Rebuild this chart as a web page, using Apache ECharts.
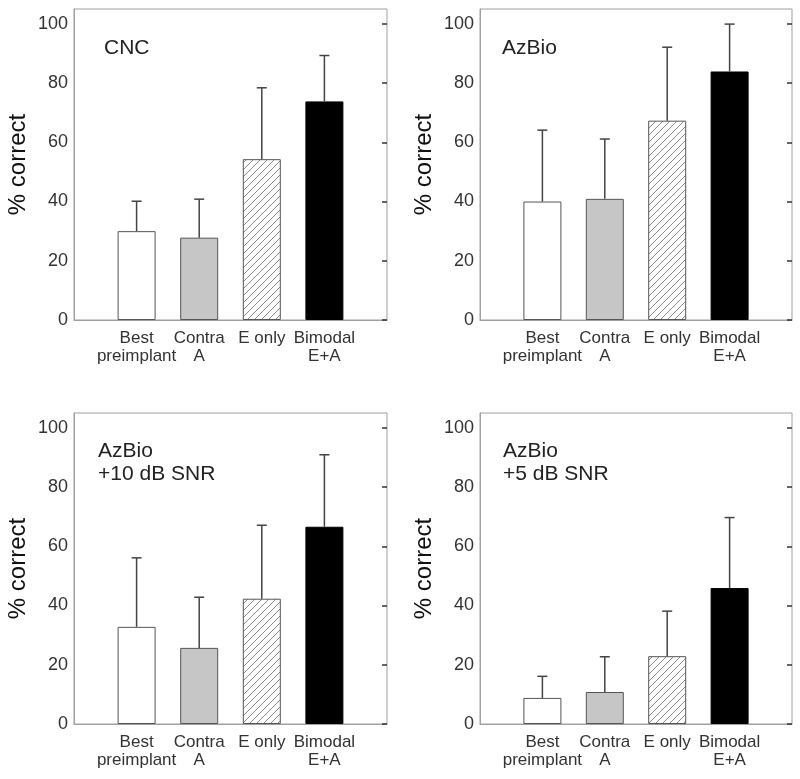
<!DOCTYPE html>
<html>
<head>
<meta charset="utf-8">
<script src="https://cdn.jsdelivr.net/npm/echarts@6/dist/echarts.min.js"></script>
<style>
    html, body { margin: 0; padding: 0; background: #fff; }
    #main { width: 800px; height: 779px; }
</style>
</head>
<body>
<div id="main"></div>
<script>
    // x categories (blank slots at both ends leave the gaps seen in the figure)
    var categories = ['', 'Best\npreimplant', 'Contra\nA', 'E only', 'Bimodal\nE+A', ''];
    var yTicks = [0, 20, 40, 60, 80, 100];

    // panel titles
    var panelTitles = ['CNC', 'AzBio', 'AzBio\n+10 dB SNR', 'AzBio\n+5 dB SNR'];

    // mean % correct per condition
    var cncMean = [30, 27.8, 54.3, 73.8];
    var azbioMean = [40, 40.9, 67.3, 83.9];
    var snr10Mean = [32.8, 25.7, 42.3, 66.6];
    var snr5Mean = [8.8, 10.8, 22.9, 45.9];

    // top of the error bar (mean + SD)
    var cncTop = [40.1, 40.8, 78.4, 89.3];
    var azbioTop = [64.1, 61.1, 92.1, 99.9];
    var snr10Top = [56.1, 42.8, 67.1, 90.9];
    var snr5Top = [16.1, 22.7, 38.1, 69.7];

    var means = [cncMean, azbioMean, snr10Mean, snr5Mean];
    var tops = [cncTop, azbioTop, snr10Top, snr5Top];

    // hatch pattern for "E only"
    function makeHatch() {
        var c = document.createElement('canvas');
        c.width = 7;
        c.height = 7;
        var ctx = c.getContext('2d');
        ctx.fillStyle = '#fff';
        ctx.fillRect(0, 0, 7, 7);
        ctx.strokeStyle = '#8a8a8a';
        ctx.lineWidth = 1;
        ctx.beginPath();
        ctx.moveTo(-1, 8); ctx.lineTo(8, -1);
        ctx.moveTo(-8, 8); ctx.lineTo(1, -1);
        ctx.moveTo(6, 8); ctx.lineTo(15, -1);
        ctx.stroke();
        return c;
    }
    var hatch = makeHatch();

    var barStyles = [
        {color: '#ffffff', borderColor: '#555', borderWidth: 1},
        {color: '#c6c6c6', borderColor: '#555', borderWidth: 1},
        {color: {image: hatch, repeat: 'repeat'}, borderColor: '#555', borderWidth: 1},
        {color: '#000000', borderColor: '#000', borderWidth: 1}
    ];

    var grids = [
        {left: 74, top: 9, width: 313, height: 311},
        {left: 480, top: 9, width: 312, height: 311},
        {left: 74, top: 413, width: 313, height: 311},
        {left: 480, top: 413, width: 312, height: 311}
    ];
    var titlePos = [[104, 37], [502, 37], [98, 440], [503, 440]];

    var font = 'Liberation Sans, Arial, sans-serif';
    var option = {
        animation: false,
        backgroundColor: '#fff',
        title: [],
        grid: [],
        xAxis: [],
        yAxis: [],
        series: []
    };

    for (var p = 0; p < 4; p++) {
        option.grid.push({
            left: grids[p].left, top: grids[p].top,
            width: grids[p].width, height: grids[p].height,
            show: true, borderColor: '#a0a0a0', borderWidth: 1
        });
        option.title.push({
            text: panelTitles[p], padding: 0,
            left: titlePos[p][0], top: titlePos[p][1],
            textStyle: {fontFamily: font, fontSize: 21, fontWeight: 'normal', color: '#222', lineHeight: 23}
        });
        option.xAxis.push({
            type: 'category', gridIndex: p, data: categories, boundaryGap: false,
            axisLine: {lineStyle: {color: '#a0a0a0'}},
            axisTick: {show: false},
            axisLabel: {interval: 0, color: '#333', fontFamily: font, fontSize: 17, lineHeight: 18, margin: 9}
        });
        option.yAxis.push({
            type: 'value', gridIndex: p, min: 0, max: 105, interval: 20,
            name: '% correct', nameLocation: 'middle', nameGap: 44,
            nameTextStyle: {fontFamily: font, fontSize: 24, color: '#111'},
            axisLine: {show: true, lineStyle: {color: '#a0a0a0'}},
            axisTick: {show: false},
            splitLine: {show: false},
            axisLabel: {
                color: '#333', fontFamily: font, fontSize: 18, margin: 6,
                formatter: function (v) { return yTicks.indexOf(v) >= 0 ? String(v) : ''; }
            }
        });
        // right axis carries the inward tick marks
        option.yAxis.push({
            type: 'value', gridIndex: p, min: 0, max: 105, interval: 20, position: 'right',
            axisLine: {show: false},
            axisTick: {show: true, inside: true, length: 5, customValues: yTicks, lineStyle: {color: '#333', width: 1.5}},
            axisLabel: {show: false},
            splitLine: {show: false}
        });
        var ax = p * 2;

        var barData = ['-'];
        var errData = [];
        for (var i = 0; i < 4; i++) {
            barData.push({value: means[p][i], itemStyle: barStyles[i]});
            errData.push([i + 1, means[p][i], tops[p][i]]);
        }
        barData.push('-');

        option.series.push({
            type: 'bar', xAxisIndex: p, yAxisIndex: ax,
            data: barData, barWidth: 38, silent: true
        });
        option.series.push({
            type: 'custom', xAxisIndex: p, yAxisIndex: ax, z: 3, silent: true,
            data: errData,
            renderItem: function (params, api) {
                var x = api.value(0);
                var lo = api.coord([x, api.value(1)]);
                var hi = api.coord([x, api.value(2)]);
                var style = {stroke: '#444', lineWidth: 1.5};
                return {
                    type: 'group',
                    children: [
                        {type: 'line', shape: {x1: lo[0], y1: lo[1], x2: hi[0], y2: hi[1]}, style: style},
                        {type: 'line', shape: {x1: hi[0] - 5, y1: hi[1], x2: hi[0] + 5, y2: hi[1]}, style: style}
                    ]
                };
            }
        });
    }

    var chart = echarts.init(document.getElementById('main'));
    chart.setOption(option);
</script>
</body>
</html>
